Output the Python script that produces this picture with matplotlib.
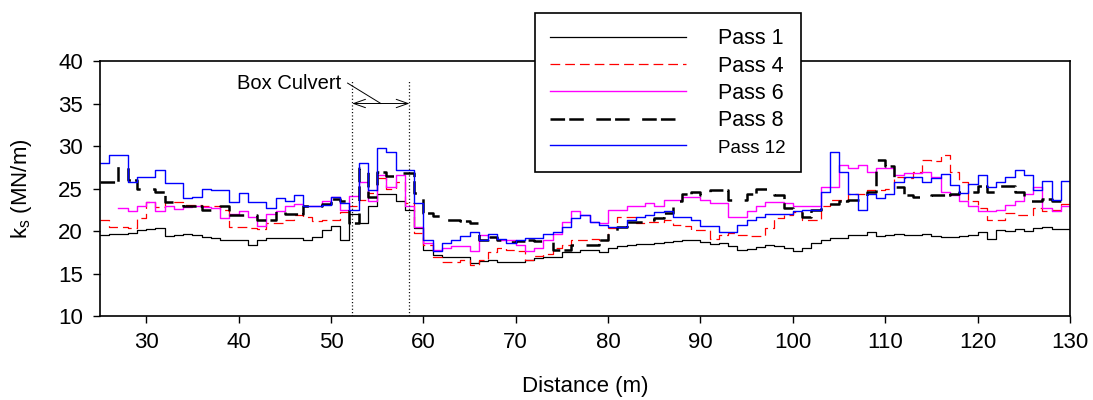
import numpy as np
import matplotlib
matplotlib.use("Agg")
import matplotlib.pyplot as plt

plt.rcParams['font.family'] = ['Liberation Sans', 'DejaVu Sans']
plt.rcParams['lines.scale_dashes'] = False

# Distance along the embankment (m), one reading per metre
distance = np.arange(25, 131)

# Stiffness k_s (MN/m) after each roller pass
pass1 = [19.5, 19.6, 19.7, 19.8, 20.1, 20.2, 20.4, 19.4, 19.5, 19.6,
         19.5, 19.3, 19.2, 18.9, 18.9, 18.9, 18.3, 18.9, 19.2, 19.2,
         19.2, 19.2, 19.0, 19.3, 20.1, 20.6, 19.0, 22.0, 21.0, 23.0,
         24.3, 24.3, 23.5, 22.5, 20.3, 17.8, 17.2, 17.0, 16.9, 16.9,
         16.2, 16.5, 16.6, 16.4, 16.3, 16.4, 16.6, 16.8, 17.0, 17.0,
         17.5, 17.5, 17.8, 17.8, 17.5, 18.0, 18.2, 18.3, 18.5, 18.5,
         18.6, 18.7, 18.8, 19.0, 18.9, 18.7, 18.5, 18.6, 18.2, 17.8,
         17.9, 18.1, 18.4, 18.2, 18.0, 17.6, 18.0, 18.6, 19.0, 19.2,
         19.2, 19.5, 19.5, 19.9, 19.4, 19.5, 19.6, 19.5, 19.5, 19.6,
         19.4, 19.3, 19.3, 19.4, 19.5, 19.9, 19.1, 20.1, 20.0, 20.2,
         20.0, 20.4, 20.5, 20.2, 20.2, 19.2]

pass4 = [21.3, 20.5, 20.5, 20.3, 21.5, 23.4, 22.8, 23.4, 23.4, 23.1,
         23.1, 22.9, 22.9, 22.5, 20.5, 20.5, 20.3, 20.2, 20.9, 20.9,
         21.3, 21.9, 21.6, 21.2, 21.3, 21.3, 22.2, 22.9, 23.6, 24.5,
         26.2, 25.0, 25.8, 23.3, 19.8, 18.4, 17.0, 16.4, 16.3, 16.6,
         16.0, 16.6, 17.5, 18.0, 17.8, 17.6, 16.6, 17.1, 17.3, 18.0,
         18.3, 18.9, 18.9, 19.1, 18.9, 20.3, 21.7, 21.7, 21.0, 21.1,
         21.1, 21.3, 20.7, 20.6, 20.1, 20.1, 19.1, 19.5, 19.8, 19.5,
         19.4, 19.4, 20.3, 21.5, 21.9, 22.2, 21.3, 21.3, 23.0, 23.6,
         23.6, 24.4, 24.4, 24.8, 24.8, 25.0, 26.4, 26.2, 26.9, 28.4,
         28.2, 29.0, 27.0, 25.8, 23.5, 22.7, 21.3, 21.3, 22.1, 21.9,
         21.9, 22.7, 22.3, 22.5, 23.2, 23.2]

pass6 = [np.nan, np.nan, 22.7, 22.3, 23.0, 23.4, 22.4, 23.0, 22.6, 22.8,
         23.0, 22.8, 22.7, 21.5, 22.0, 22.3, 21.6, 20.6, 22.0, 22.4,
         22.9, 23.2, 22.9, 22.9, 23.5, 24.0, 22.5, 24.1, 25.8, 23.5,
         26.6, 25.2, 26.6, 22.9, 20.5, 18.6, 17.8, 18.0, 18.2, 18.2,
         17.6, 19.5, 19.3, 19.0, 18.9, 18.4, 17.7, 18.0, 19.0, 19.7,
         21.1, 22.3, 21.9, 21.1, 20.9, 22.5, 22.5, 22.9, 22.9, 23.3,
         23.0, 23.6, 23.6, 24.0, 24.0, 23.6, 23.3, 23.3, 21.7, 21.7,
         22.3, 22.9, 23.4, 23.4, 23.3, 22.9, 22.9, 23.0, 25.2, 25.2,
         27.8, 27.4, 27.8, 27.0, 27.4, 27.4, 26.6, 26.8, 26.8, 26.9,
         26.4, 24.6, 24.2, 23.5, 23.0, 22.3, 22.3, 22.5, 23.1, 23.5,
         24.4, 25.2, 22.7, 22.3, 22.9, 22.3]

pass8 = [25.8, 25.8, 27.6, 26.0, 25.0, 25.0, 24.6, 23.4, 23.4, 22.9,
         22.9, 22.5, 22.5, 23.0, 21.9, 21.9, 21.9, 21.3, 21.3, 22.5,
         22.0, 22.0, 23.0, 23.0, 23.2, 23.8, 23.5, 21.0, 27.4, 24.0,
         27.0, 26.5, 26.8, 26.8, 24.5, 22.1, 21.8, 21.3, 21.3, 21.2,
         21.0, 18.9, 19.3, 18.9, 18.7, 18.8, 19.0, 18.8, 18.75, 17.8,
         17.8, 18.35, 18.35, 18.4, 18.9, 19.8, 20.5, 21.1, 21.1, 21.3,
         21.5, 22.1, 23.5, 24.4, 24.6, 24.2, 24.8, 24.8, 23.7, 23.7,
         24.4, 24.9, 24.9, 24.2, 22.7, 22.5, 21.7, 22.5, 23.2, 23.2,
         23.5, 23.6, 23.6, 24.6, 28.4, 27.6, 25.2, 24.2, 24.0, 24.0,
         24.2, 24.2, 24.4, 24.6, 24.6, 25.3, 24.6, 25.3, 25.3, 24.6,
         23.5, 23.5, 23.8, 23.5, 23.5, 23.5]

pass12 = [28.0, 28.9, 28.9, 25.8, 26.4, 26.4, 27.2, 25.7, 25.7, 23.9,
          24.0, 25.0, 24.8, 24.8, 23.4, 24.5, 23.4, 23.4, 22.7, 23.9,
          23.5, 24.2, 22.9, 22.9, 23.1, 24.0, 23.3, 22.5, 28.0, 24.8,
          29.8, 29.3, 27.2, 27.2, 23.3, 19.0, 17.7, 18.6, 18.9, 19.4,
          19.9, 18.9, 19.6, 19.1, 18.6, 18.9, 19.2, 19.2, 19.7, 19.9,
          20.5, 21.5, 21.9, 21.1, 20.7, 20.5, 20.5, 21.3, 21.6, 21.9,
          22.2, 22.3, 21.6, 21.6, 21.3, 20.6, 20.6, 19.9, 19.9, 20.7,
          21.3, 21.7, 22.0, 22.0, 22.0, 22.3, 22.5, 22.5, 24.6, 29.3,
          27.0, 24.4, 22.5, 24.4, 23.9, 24.4, 25.8, 26.4, 26.4, 25.8,
          26.2, 26.7, 25.4, 24.5, 25.5, 26.6, 25.2, 25.8, 26.3, 27.2,
          26.6, 24.8, 25.9, 23.7, 25.9, 25.6]

labels = ["Pass 1", "Pass 4", "Pass 6", "Pass 8", "Pass 12"]

# Box culvert extent (m)
culvert_start, culvert_end = 52.3, 58.5

fig = plt.figure(figsize=(10.93, 4.0), dpi=100)
ax = fig.add_axes([100 / 1093, 84 / 400, 970 / 1093, 255 / 400])

ax.plot(distance, pass1, drawstyle='steps-post', color='black', lw=0.9,
        label=labels[0])
ax.plot(distance, pass4, drawstyle='steps-post', color='red', lw=0.9,
        linestyle=(0, (7.0, 3.6)), label=labels[1])
ax.plot(distance, pass6, drawstyle='steps-post', color='magenta', lw=1.0,
        label=labels[2])
ax.plot(distance, pass8, drawstyle='steps-post', color='black', lw=1.8,
        linestyle=(0, (10.5, 3.0, 10.5, 9.0)), label=labels[3])
ax.plot(distance, pass12, drawstyle='steps-post', color='blue', lw=1.0,
        label=labels[4])

# Box culvert markers
ax.vlines([culvert_start, culvert_end], 10, 37.6, colors='black',
          linestyles=(0, (0.8, 1.6)), lw=0.9)
ax.annotate('', xy=(culvert_start, 35.0), xytext=(culvert_end, 35.0),
            arrowprops=dict(arrowstyle='<->,head_length=0.85,head_width=0.3',
                            lw=0.7, color='black', shrinkA=0, shrinkB=0))
ax.plot([51.8, 55.4], [37.4, 35.0], color='black', lw=0.7)
ax.text(51.1, 37.3, 'Box Culvert', ha='right', va='center', fontsize=14.5)

ax.set_xlim(25, 130)
ax.set_ylim(10, 40)
ax.set_xticks(np.arange(30, 131, 10))
ax.set_yticks(np.arange(10, 41, 5))
ax.tick_params(direction='out', length=5.3, width=1.0, labelsize=16,
               top=False, right=False)
ax.tick_params(axis='y', pad=7)
ax.tick_params(axis='x', pad=6)
for sp in ax.spines.values():
    sp.set_linewidth(1.2)

ax.set_xlabel('Distance (m)', fontsize=16)
ax.set_ylabel(r'$\mathregular{k_s}$ (MN/m)', fontsize=16)
ax.xaxis.set_label_coords(0.5, -0.235)
ax.yaxis.set_label_coords(-0.068, 0.5)

leg = ax.legend(loc='upper left', bbox_to_anchor=(535 / 1093, 1 - 13 / 400),
                bbox_transform=fig.transFigure, borderaxespad=0,
                fontsize=15.5, handlelength=6.3, handletextpad=1.5,
                labelspacing=0.3, borderpad=0.7, fancybox=False,
                framealpha=1, edgecolor='black')
leg.get_frame().set_linewidth(1.2)
leg.get_texts()[4].set_fontsize(13.5)

fig.savefig('out.png', dpi=100)
